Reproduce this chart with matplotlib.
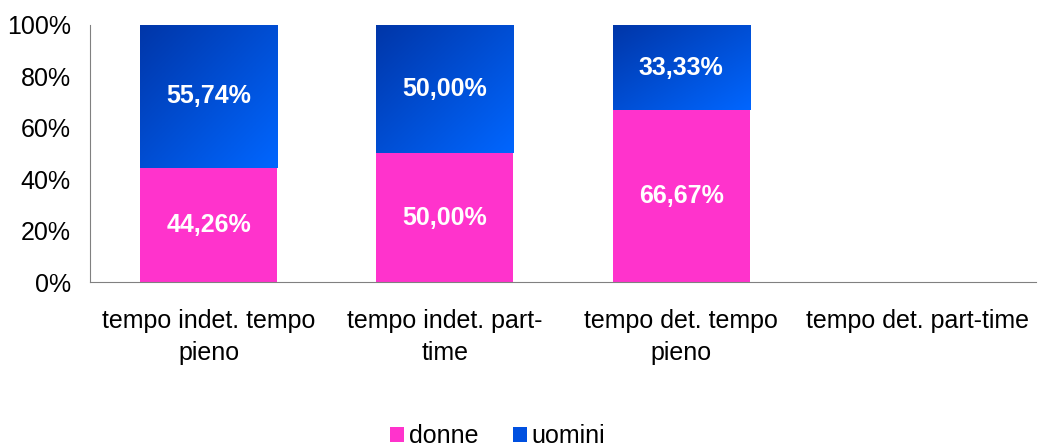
import numpy as np
import matplotlib.pyplot as plt
from matplotlib.colors import LinearSegmentedColormap

plt.rcParams['font.family'] = ['Liberation Sans', 'DejaVu Sans']

categories = ['tempo indet. tempo\npieno', 'tempo indet. part-\ntime',
              'tempo det. tempo\npieno', 'tempo det. part-time']
donne = [44.26, 50.00, 66.67, 0]
uomini = [55.74, 50.00, 33.33, 0]
donne_labels = ['44,26%', '50,00%', '66,67%', '']
uomini_labels = ['55,74%', '50,00%', '33,33%', '']

pink = '#ff33cc'
blue_cmap = LinearSegmentedColormap.from_list('blu', ['#0036a8', '#0066ff'])

fig = plt.figure(figsize=(10.39, 4.48), dpi=100)
ax = fig.add_axes([0.087, 0.37, 0.91, 0.575])

x = np.arange(len(categories))
w = 0.58
b1 = ax.bar(x, donne, w, color=pink, zorder=2)
b2 = ax.bar(x, uomini, w, bottom=donne, color='#0050e0', zorder=2)

# diagonal gradient on the blue bars
yy, xx = np.mgrid[0:1:100j, 0:1:100j]
grad = (xx + yy) / 2
for rect in b2:
    if rect.get_height() <= 0:
        continue
    x0, y0 = rect.get_x(), rect.get_y()
    im = ax.imshow(grad, cmap=blue_cmap, aspect='auto', origin='upper',
                   extent=[x0, x0 + rect.get_width(), y0, y0 + rect.get_height()],
                   zorder=3)
    im.set_clip_path(rect)

for i in range(len(categories)):
    if donne_labels[i]:
        ax.text(x[i], donne[i] / 2, donne_labels[i], ha='center', va='center',
                color='white', fontsize=18, fontweight='bold', zorder=4)
    if uomini_labels[i]:
        ax.text(x[i], donne[i] + uomini[i] / 2, uomini_labels[i], ha='center',
                va='center', color='white', fontsize=18, fontweight='bold', zorder=4)

ax.set_xlim(-0.5, 3.5)
ax.set_ylim(0, 100)
ax.set_yticks(range(0, 101, 20))
ax.set_yticklabels([f'{v}%' for v in range(0, 101, 20)], fontsize=18)
ax.set_xticks(x)
ax.set_xticklabels(categories, fontsize=18, linespacing=1.45)
ax.tick_params(axis='y', length=0, pad=14)
ax.tick_params(axis='x', length=0, pad=19)
for s in ['top', 'right']:
    ax.spines[s].set_visible(False)
for s in ['left', 'bottom']:
    ax.spines[s].set_color('#808080')

fig.legend([b1, b2[0]], ['donne', 'uomini'], loc='center',
           bbox_to_anchor=(0.479, 0.026), ncol=2, frameon=False, fontsize=18,
           handlelength=0.55, handleheight=0.55, handletextpad=0.2, columnspacing=1.4,
           borderpad=0)

fig.savefig('out.png', dpi=100)
